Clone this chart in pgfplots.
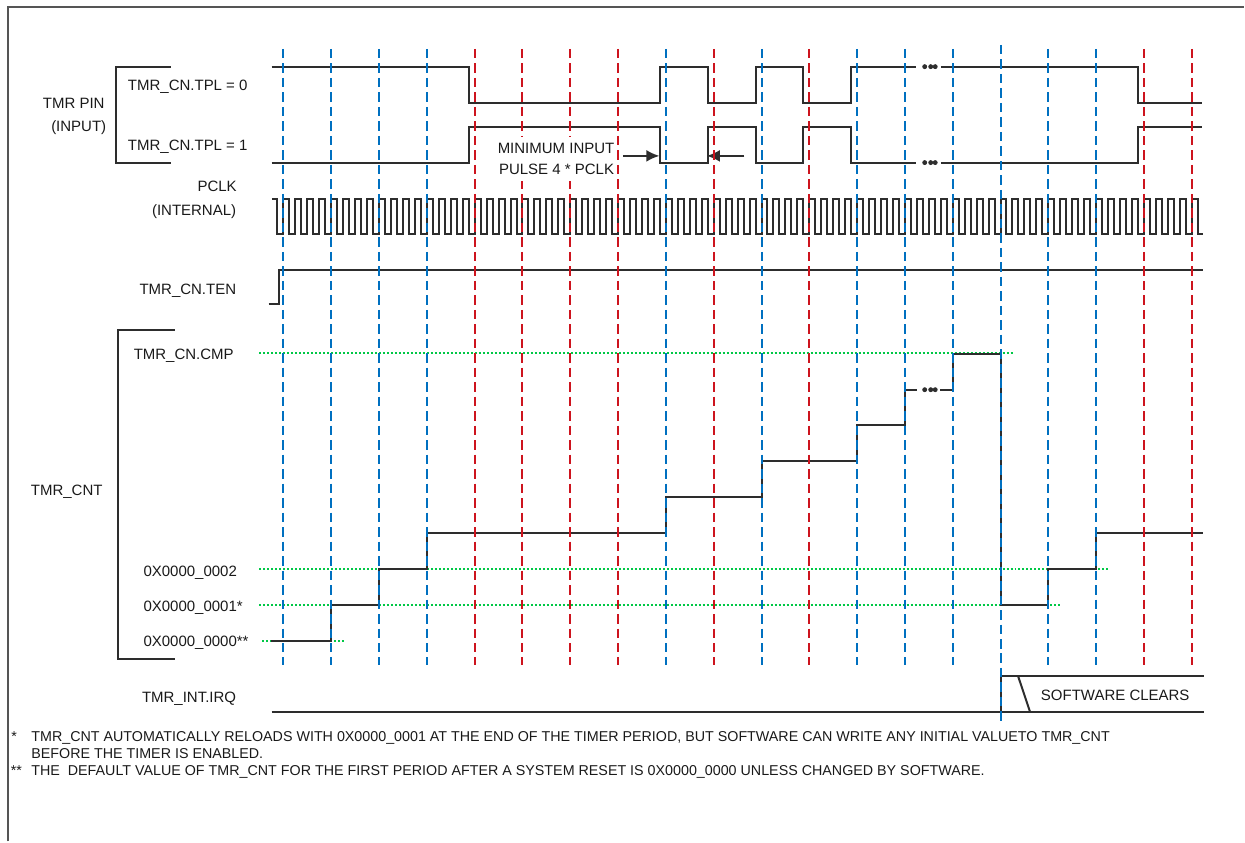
\documentclass[border=0pt]{standalone}
\usepackage{pgfplots}
\pgfplotsset{compat=1.18}
\usetikzlibrary{arrows.meta}
\usepackage{fontspec}
\setmainfont{Liberation Sans}
\definecolor{bl}{RGB}{0,112,192}
\definecolor{rd}{RGB}{205,20,30}
\definecolor{gr}{RGB}{0,200,70}
\definecolor{frm}{RGB}{85,85,85}
\definecolor{sig}{RGB}{45,45,45}
\tikzset{
  lbl/.style={font=\fontsize{7.5}{8.8}\selectfont, inner sep=0pt, text=black!90},
  fn/.style={font=\fontsize{7.15}{8.6}\selectfont, inner sep=0pt, text=black!90, anchor=base west},
  gline/.style={gr, line width=1pt, dash pattern=on 1pt off 1pt},
  dline/.style={line width=1pt, dash pattern=on 4.75pt off 2.5pt},
  sg/.style={sig, line width=1pt},
}
\begin{document}
\begin{tikzpicture}
\begin{axis}[scale only axis, width=622.5pt, height=421pt,
  xmin=-5.930, xmax=20.094, ymin=0, ymax=842, y dir=reverse,
  hide axis, clip=false, unbounded coords=jump]
% bounding box
\addplot[draw=none] coordinates {(-5.930,0) (20.094,842)};
% frame
\addplot[frm, line width=1pt] coordinates {(-5.763,842) (-5.763,7) (20.094,7)};
% green reference levels
\addplot[gline] coordinates {(-0.51,353.7) (15.27,353.7)};
\addplot[gline] coordinates {(-0.51,569.7) (17.25,569.7)};
\addplot[gline] coordinates {(-0.51,605.7) (16.26,605.7)};
\addplot[gline] coordinates {(-0.447,641) (1.267,641)};
% brackets
\addplot[sg] coordinates {(-2.362,66.7) (-3.499,66.7) (-3.499,162.7) (-2.362,162.7)};
\addplot[sg] coordinates {(-2.272,330) (-3.470,330) (-3.470,659.3) (-2.272,659.3)};
% TMR pin, TPL = 0
\addplot[sg] coordinates {(-0.25,66.7) (3.875,66.7) (3.875,102.7) (7.875,102.7) (7.875,66.7) (8.875,66.7) (8.875,102.7) (9.875,102.7) (9.875,66.7) (10.875,66.7) (10.875,102.7) (11.875,102.7) (11.875,66.7) (13.24,66.7)};
\addplot[sg] coordinates {(13.754,66.7) (17.875,66.7) (17.875,102.7) (19.225,102.7)};
% TMR pin, TPL = 1
\addplot[sg] coordinates {(-0.25,162.7) (3.875,162.7) (3.875,126.7) (7.875,126.7) (7.875,162.7) (8.875,162.7) (8.875,126.7) (9.875,126.7) (9.875,162.7) (10.875,162.7) (10.875,126.7) (11.875,126.7) (11.875,162.7) (13.24,162.7)};
\addplot[sg] coordinates {(13.754,162.7) (17.875,162.7) (17.875,126.7) (19.225,126.7)};
\addplot[only marks, mark=*, mark size=1pt, sig] coordinates {(13.414,66.7) (13.540,66.7) (13.634,66.7) (13.414,162.7) (13.540,162.7) (13.634,162.7) (13.414,390) (13.540,390) (13.634,390)};
% PCLK
\addplot[sg, const plot] coordinates {
(-0.24,199) (-0.125,234.3)
(0,199) (0.125,234.3) (0.25,199) (0.375,234.3) (0.5,199) (0.625,234.3) (0.75,199) (0.875,234.3)
(1,199) (1.125,234.3) (1.25,199) (1.375,234.3) (1.5,199) (1.625,234.3) (1.75,199) (1.875,234.3)
(2,199) (2.125,234.3) (2.25,199) (2.375,234.3) (2.5,199) (2.625,234.3) (2.75,199) (2.875,234.3)
(3,199) (3.125,234.3) (3.25,199) (3.375,234.3) (3.5,199) (3.625,234.3) (3.75,199) (3.875,234.3)
(4,199) (4.125,234.3) (4.25,199) (4.375,234.3) (4.5,199) (4.625,234.3) (4.75,199) (4.875,234.3)
(5,199) (5.125,234.3) (5.25,199) (5.375,234.3) (5.5,199) (5.625,234.3) (5.75,199) (5.875,234.3)
(6,199) (6.125,234.3) (6.25,199) (6.375,234.3) (6.5,199) (6.625,234.3) (6.75,199) (6.875,234.3)
(7,199) (7.125,234.3) (7.25,199) (7.375,234.3) (7.5,199) (7.625,234.3) (7.75,199) (7.875,234.3)
(8,199) (8.125,234.3) (8.25,199) (8.375,234.3) (8.5,199) (8.625,234.3) (8.75,199) (8.875,234.3)
(9,199) (9.125,234.3) (9.25,199) (9.375,234.3) (9.5,199) (9.625,234.3) (9.75,199) (9.875,234.3)
(10,199) (10.125,234.3) (10.25,199) (10.375,234.3) (10.5,199) (10.625,234.3) (10.75,199) (10.875,234.3)
(11,199) (11.125,234.3) (11.25,199) (11.375,234.3) (11.5,199) (11.625,234.3) (11.75,199) (11.875,234.3)
(12,199) (12.125,234.3) (12.25,199) (12.375,234.3) (12.5,199) (12.625,234.3) (12.75,199) (12.875,234.3)
(13,199) (13.125,234.3) (13.25,199) (13.375,234.3) (13.5,199) (13.625,234.3) (13.75,199) (13.875,234.3)
(14,199) (14.125,234.3) (14.25,199) (14.375,234.3) (14.5,199) (14.625,234.3) (14.75,199) (14.875,234.3)
(15,199) (15.125,234.3) (15.25,199) (15.375,234.3) (15.5,199) (15.625,234.3) (15.75,199) (15.875,234.3)
(16,199) (16.125,234.3) (16.25,199) (16.375,234.3) (16.5,199) (16.625,234.3) (16.75,199) (16.875,234.3)
(17,199) (17.125,234.3) (17.25,199) (17.375,234.3) (17.5,199) (17.625,234.3) (17.75,199) (17.875,234.3)
(18,199) (18.125,234.3) (18.25,199) (18.375,234.3) (18.5,199) (18.625,234.3) (18.75,199) (18.875,234.3)
(19,199) (19.125,234.3) (19.23,234.3)};
% TEN
\addplot[sg] coordinates {(-0.31,304) (-0.1,304) (-0.1,270) (19.24,270)};
% TMR_CNT
\addplot[sg] coordinates {(-0.265,641) (1,641) (1,605.7) (2,605.7) (2,569.7) (3,569.7) (3,533.7) (8,533.7) (8,497.7) (10,497.7) (10,461.7) (12,461.7) (12,425.7) (13,425.7) (13,390) (13.253,390)};
\addplot[sg] coordinates {(13.739,390) (14,390) (14,354) (15,354) (15,605.7) (16,605.7) (16,569.7) (17,569.7) (17,533.7) (19.24,533.7)};
% IRQ
\addplot[sg] coordinates {(-0.25,712.7) (19.26,712.7)};
\addplot[sg] coordinates {(15,712.7) (15,677) (19.26,677)};
\addplot[sg] coordinates {(15.37,677) (15.62,712.7)};
% arrows
\addplot[sg, -{Latex[length=6.6pt,width=6pt]}] coordinates {(7.10,156) (7.866,156)};
\addplot[sg, -{Latex[length=6.6pt,width=6pt]}] coordinates {(9.643,156) (8.855,156)};
% dashed clock-edge markers
\addplot[bl, dline] coordinates {
(0,49) (0,665.7) (nan,nan) (1,49) (1,665.7) (nan,nan) (2,49) (2,665.7) (nan,nan) (3,49) (3,665.7) (nan,nan)
(8,49) (8,665.7) (nan,nan) (10,49) (10,665.7) (nan,nan) (12,49) (12,665.7) (nan,nan) (13,49) (13,665.7) (nan,nan)
(14,49) (14,665.7) (nan,nan) (16,49) (16,665.7) (nan,nan) (17,49) (17,665.7)};
\addplot[bl, dline] coordinates {(15,45) (15,725)};
\addplot[rd, dline] coordinates {
(4,49) (4,665.7) (nan,nan) (5,49) (5,665.7) (nan,nan) (6,49) (6,665.7) (nan,nan) (7,49) (7,665.7) (nan,nan)
(9,49) (9,665.7) (nan,nan) (11,49) (11,665.7) (nan,nan) (18,49) (18,665.7) (nan,nan) (19,49) (19,665.7)};
% labels
\node[lbl, anchor=base east] at (axis cs:-3.735,108.6) {TMR PIN};
\node[lbl, anchor=base east] at (axis cs:-3.700,132) {(INPUT)};
\node[lbl, anchor=base west] at (axis cs:-3.261,91) {TMR\_CN.TPL = 0};
\node[lbl, anchor=base west] at (axis cs:-3.261,150.3) {TMR\_CN.TPL = 1};
\node[lbl, anchor=base east] at (axis cs:-0.970,192) {PCLK};
\node[lbl, anchor=base east] at (axis cs:-0.982,215.3) {(INTERNAL)};
\node[lbl, anchor=base east] at (axis cs:-0.982,294.3) {TMR\_CN.TEN};
\node[lbl, anchor=base east] at (axis cs:-1.033,359.3) {TMR\_CN.CMP};
\node[lbl, anchor=base east] at (axis cs:-3.777,496.3) {TMR\_CNT};
\node[lbl, anchor=base west] at (axis cs:-2.935,576.6) {0X0000\_0002};
\node[lbl, anchor=base west] at (axis cs:-2.935,612) {0X0000\_0001*};
\node[lbl, anchor=base west] at (axis cs:-2.935,647) {0X0000\_0000**};
\node[lbl, anchor=base east] at (axis cs:-0.982,702.6) {TMR\_INT.IRQ};
\node[lbl, anchor=base, fill=white, inner ysep=3pt] at (axis cs:5.702,153.6) {MINIMUM INPUT};
\node[lbl, anchor=base, fill=white, inner ysep=3pt] at (axis cs:5.713,174.6) {PULSE 4 * PCLK};
\node[lbl, anchor=base] at (axis cs:17.40,701.3) {SOFTWARE CLEARS};
% footnotes
\node[fn] at (axis cs:-5.700,742) {*};
\node[fn] at (axis cs:-5.282,742) {TMR\_CNT AUTOMATICALLY RELOADS WITH 0X0000\_0001 AT THE END OF THE TIMER PERIOD, BUT SOFTWARE CAN WRITE ANY INITIAL VALUETO TMR\_CNT};
\node[fn] at (axis cs:-5.282,759) {BEFORE THE TIMER IS ENABLED.};
\node[fn] at (axis cs:-5.711,776) {**};
\node[fn] at (axis cs:-5.282,776) {THE\ \ DEFAULT VALUE OF TMR\_CNT FOR THE FIRST PERIOD AFTER A SYSTEM RESET IS 0X0000\_0000 UNLESS CHANGED BY SOFTWARE.};
\end{axis}
\end{tikzpicture}
\end{document}
